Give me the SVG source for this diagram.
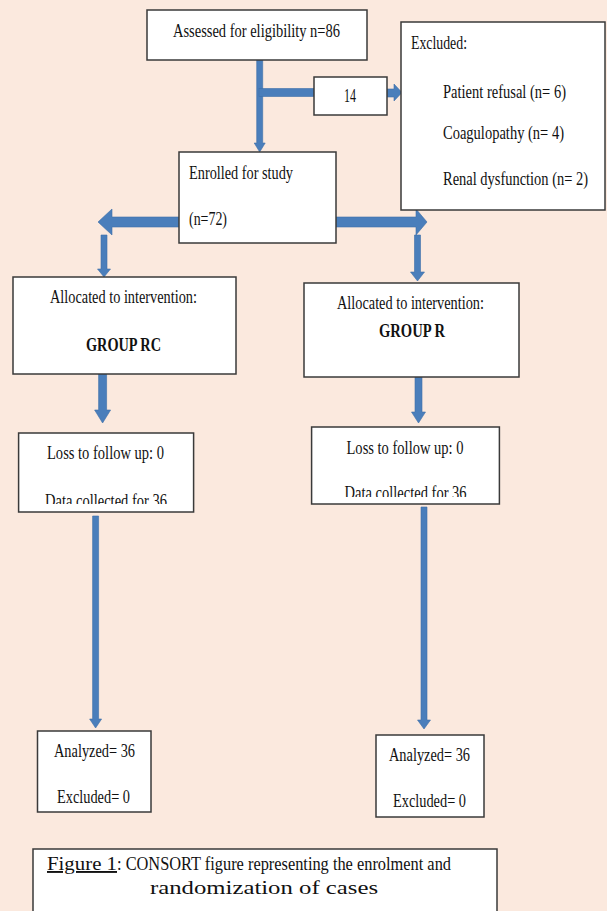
<svg xmlns="http://www.w3.org/2000/svg" width="607" height="911" viewBox="0 0 607 911">
<style>
.box{fill:#ffffff;stroke:#3a3a3a;stroke-width:1.5}
.t{font-family:"Liberation Serif","Times New Roman",serif;font-size:18px;fill:#111111}
.c{font-size:19px}
.b{font-weight:bold}
.arr{fill:#4a7ebb;stroke:#3d6fa8;stroke-width:0.6}
</style>
<defs>
<clipPath id="clipL"><rect x="19" y="434" width="174" height="70"/></clipPath>
<clipPath id="clipR"><rect x="312" y="428" width="187" height="69"/></clipPath>
</defs>
<rect x="0" y="0" width="607" height="911" fill="#fbe9de"/>

<g id="connectors">
<polygon class="arr" points="256.7,60 262.7,60 262.7,143 265.2,143 259.7,152 254.2,143 256.7,143"/>
<rect class="arr" x="259" y="88.5" width="55" height="8"/>
<polygon class="arr" points="387,89 394,89 394,84 402,92.5 394,101 394,97 387,97"/>
<polygon class="arr" points="180,217 112,217 112,209 98,222 112,235 112,227 180,227"/>
<polygon class="arr" points="336,217 416,217 416,209 427,222 416,235 416,227 336,227"/>
<polygon class="arr" points="101,235 107,235 107,269 110.5,269 104,277 97.5,269 101,269"/>
<polygon class="arr" points="414.5,235 420.5,235 420.5,272 424.5,272 417.5,281 410.5,272 414.5,272"/>
<polygon class="arr" points="98.6,374 106.6,374 106.6,410 110.6,410 102.6,423 94.6,410 98.6,410"/>
<polygon class="arr" points="415,369 422,369 422,412 425.5,412 418.5,423 411.5,412 415,412"/>
<polygon class="arr" points="92.6,516 98.6,516 98.6,719 101.6,719 95.6,728 89.6,719 92.6,719"/>
<polygon class="arr" points="421,507 427,507 427,720 430.5,720 424,729 417.5,720 421,720"/>
</g>

<g id="assessed">
<rect class="box" x="147" y="10" width="220" height="50"/>
<text class="t" x="173" y="37" textLength="167" lengthAdjust="spacingAndGlyphs">Assessed for eligibility n=86</text>
</g>

<g id="n14">
<rect class="box" x="314" y="77" width="73" height="38"/>
<text class="t" x="344" y="102" textLength="12" lengthAdjust="spacingAndGlyphs">14</text>
</g>

<g id="excluded">
<rect class="box" x="401" y="22" width="204" height="188"/>
<text class="t" x="411" y="49" textLength="56" lengthAdjust="spacingAndGlyphs">Excluded:</text>
<text class="t" x="443" y="98" textLength="123" lengthAdjust="spacingAndGlyphs">Patient refusal (n= 6)</text>
<text class="t" x="443" y="139" textLength="121" lengthAdjust="spacingAndGlyphs">Coagulopathy (n= 4)</text>
<text class="t" x="443" y="185" textLength="145" lengthAdjust="spacingAndGlyphs">Renal dysfunction (n= 2)</text>
</g>

<g id="enrolled">
<rect class="box" x="179" y="152" width="157" height="91"/>
<text class="t" x="189" y="179" textLength="104" lengthAdjust="spacingAndGlyphs">Enrolled for study</text>
<text class="t" x="189" y="225" textLength="38" lengthAdjust="spacingAndGlyphs">(n=72)</text>
</g>

<g id="allocRC">
<rect class="box" x="13" y="277" width="223" height="97"/>
<text class="t" x="50" y="303" textLength="147" lengthAdjust="spacingAndGlyphs">Allocated to intervention:</text>
<text class="t b" x="86" y="351" textLength="75" lengthAdjust="spacingAndGlyphs">GROUP RC</text>
</g>

<g id="allocR">
<rect class="box" x="304" y="283" width="215" height="94"/>
<text class="t" x="337" y="309" textLength="147" lengthAdjust="spacingAndGlyphs">Allocated to intervention:</text>
<text class="t b" x="379" y="337" textLength="66" lengthAdjust="spacingAndGlyphs">GROUP R</text>
</g>

<g id="lossRC">
<rect class="box" x="18.6" y="433" width="175" height="79"/>
<text class="t" x="47" y="459" textLength="117" lengthAdjust="spacingAndGlyphs">Loss to follow up: 0</text>
<text class="t" x="45" y="506.5" textLength="122" lengthAdjust="spacingAndGlyphs" clip-path="url(#clipL)">Data collected for 36</text>
</g>

<g id="lossR">
<rect class="box" x="311.6" y="427" width="187.8" height="77"/>
<text class="t" x="346.5" y="454" textLength="117" lengthAdjust="spacingAndGlyphs">Loss to follow up: 0</text>
<text class="t" x="344.6" y="498.5" textLength="122" lengthAdjust="spacingAndGlyphs" clip-path="url(#clipR)">Data collected for 36</text>
</g>

<g id="analyzedRC">
<rect class="box" x="37.5" y="731" width="113.5" height="81"/>
<text class="t" x="54" y="757" textLength="81" lengthAdjust="spacingAndGlyphs">Analyzed= 36</text>
<text class="t" x="57" y="803" textLength="73" lengthAdjust="spacingAndGlyphs">Excluded= 0</text>
</g>

<g id="analyzedR">
<rect class="box" x="376" y="735" width="108" height="82"/>
<text class="t" x="389" y="761" textLength="81" lengthAdjust="spacingAndGlyphs">Analyzed= 36</text>
<text class="t" x="393" y="807" textLength="73" lengthAdjust="spacingAndGlyphs">Excluded= 0</text>
</g>

<g id="caption">
<rect class="box" x="33" y="849" width="464" height="80"/>
<text class="t c" x="47" y="870" textLength="70" lengthAdjust="spacingAndGlyphs" text-decoration="underline">Figure 1</text>
<text class="t c" x="117" y="870" textLength="334" lengthAdjust="spacingAndGlyphs">: CONSORT figure representing the enrolment and</text>
<text class="t c" x="150" y="894" textLength="228" lengthAdjust="spacingAndGlyphs">randomization of cases</text>
</g>
</svg>
